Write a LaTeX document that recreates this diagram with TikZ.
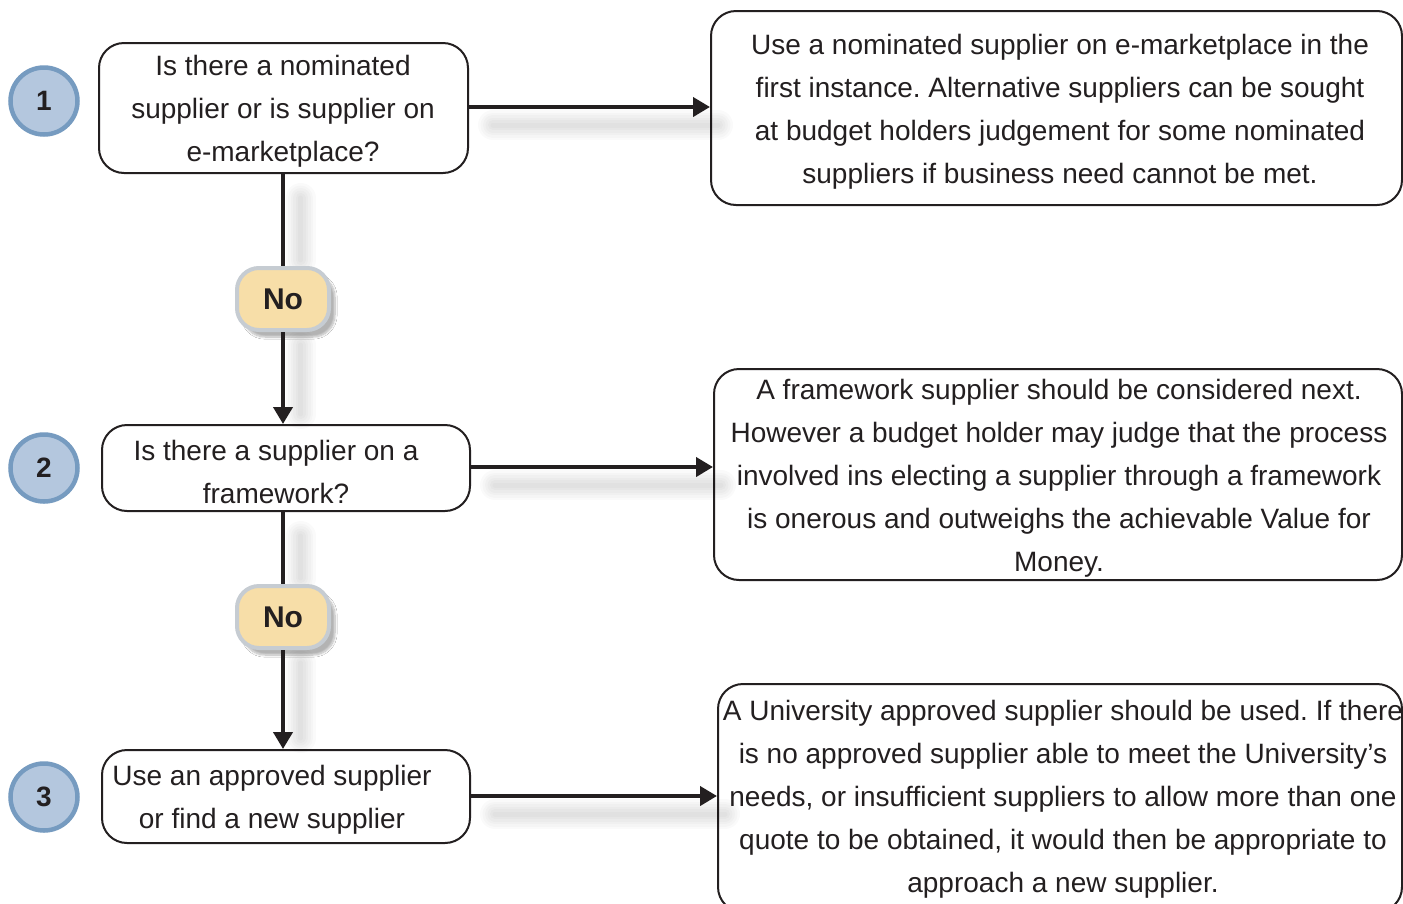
\documentclass[tikz,border=0pt]{standalone}
\usepackage{fontspec}
\setmainfont{Liberation Sans}
\usetikzlibrary{arrows.meta,shadows.blur}
\definecolor{circfill}{RGB}{180,199,222}
\definecolor{circline}{RGB}{118,155,192}
\definecolor{nofill}{RGB}{247,222,168}
\definecolor{noline}{RGB}{198,204,210}
\definecolor{ink}{RGB}{35,31,32}
\tikzset{
  qbox/.style={draw=ink, line width=2pt, rounded corners=25pt, fill=white, inner sep=0pt},
  numcirc/.style={circle, draw=circline, line width=4.5pt, fill=circfill, minimum size=67pt, inner sep=0pt, font=\fontsize{28}{28}\selectfont\bfseries, text=ink},
  nobadge/.style={draw=noline, line width=4pt, fill=nofill, rounded corners=22pt, minimum width=92pt, minimum height=62pt, inner sep=0pt, font=\fontsize{30}{30}\selectfont\bfseries, text=ink, blur shadow={shadow xshift=6pt, shadow yshift=-7pt, shadow blur steps=10, shadow blur extra rounding=4pt, shadow opacity=30}},
  txt/.style={align=center, font=\fontsize{28}{43}\selectfont, text=ink, inner sep=0pt},
  conn/.style={draw=ink, line width=4pt},
  arr/.style={conn, -{Triangle[length=17pt,width=19pt]}},
  softshadow/.style={draw=black, line cap=round, opacity=0.018}
}
\newcommand{\shadowline}[2]{%
  \foreach \w in {30,25,20,15,10,5} {\draw[softshadow, line width=\w pt] #1 -- #2;}}
\begin{document}
\frenchspacing
\begin{tikzpicture}[x=1pt,y=-1pt]
\clip (0,0) rectangle (1403,903);
\fill[white] (0,0) rectangle (1403,903);
% number circles
\node[numcirc] (c1) at (44,101) {1};
\node[numcirc] (c2) at (44,468) {2};
\node[numcirc] (c3) at (44,797) {3};
% question boxes
\node[qbox, minimum width=369pt, minimum height=130pt] (q1) at (283.5,108) {};
\node[qbox, minimum width=368pt, minimum height=86pt] (q2) at (286,468) {};
\node[qbox, minimum width=368pt, minimum height=93pt] (q3) at (286,796.5) {};
% answer boxes
\node[qbox, minimum width=691pt, minimum height=194pt] (r1) at (1056.5,108) {};
\node[qbox, minimum width=688pt, minimum height=211pt] (r2) at (1058,474.5) {};
\node[qbox, minimum width=684pt, minimum height=228pt] (r3) at (1060,798) {};
% soft shadows of connectors
\shadowline{([shift={(24,18)}]q1.east |- 0,107)}{([shift={(8,18)}]r1.west |- 0,107)}
\shadowline{([shift={(24,18)}]q2.east |- 0,467)}{([shift={(8,18)}]r2.west |- 0,467)}
\shadowline{([shift={(24,18)}]q3.east |- 0,796)}{([shift={(8,18)}]r3.west |- 0,796)}
\shadowline{([shift={(17,24)}]q1.south)}{([shift={(17,0)}]q1.south |- 0,260)}
\shadowline{([shift={(17,0)}]q1.south |- 0,345)}{([shift={(17,0)}]q1.south |- 0,414)}
\shadowline{([shift={(17,24)}]q2.south -| q1.south)}{([shift={(17,0)}]q1.south |- 0,578)}
\shadowline{([shift={(17,0)}]q1.south |- 0,663)}{([shift={(17,0)}]q1.south |- 0,738)}
% texts
\node[txt] (t1) at (283,111.5) {Is there a nominated\\supplier or is supplier on\\e-marketplace?};
\node[txt] (t2) at (276,471.5) {Is there a supplier on a\\framework?};
\node[txt] (t3) at (272,800) {Use an approved supplier\\or find a new supplier};
\node[txt] (u1) at (1060,111.5) {Use a nominated supplier on e-marketplace in the\\first instance. Alternative suppliers can be sought\\at budget holders judgement for some nominated\\suppliers if business need cannot be met.};
\node[txt] (u2) at (1059,478) {A framework supplier should be considered next.\\However a budget holder may judge that the process\\involved ins electing a supplier through a framework\\is onerous and outweighs the achievable Value for\\Money.};
\node[txt] (u3) at (1063,799.5) {A University approved supplier should be used. If there\\is no approved supplier able to meet the University’s\\needs, or insufficient suppliers to allow more than one\\quote to be obtained, it would then be appropriate to\\approach a new supplier.};
% No badges
\node[nobadge] (n1) at (283,299) {No};
\node[nobadge] (n2) at (283,617) {No};
% vertical connectors
\draw[conn] (q1.south -| n1.north) -- (n1.north);
\draw[arr] (n1.south) -- (q2.north -| n1.south);
\draw[conn] (q2.south -| n2.north) -- (n2.north);
\draw[arr] (n2.south) -- (q3.north -| n2.south);
% horizontal arrows
\draw[arr] (q1.east |- 0,107) -- (r1.west |- 0,107);
\draw[arr] (q2.east |- 0,467) -- (r2.west |- 0,467);
\draw[arr] (q3.east |- 0,796) -- (r3.west |- 0,796);
\end{tikzpicture}
\end{document}
